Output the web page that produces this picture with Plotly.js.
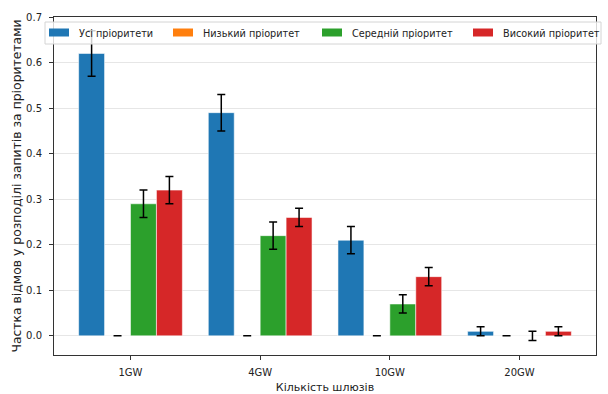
<!DOCTYPE html>
<html>
<head>
<meta charset="utf-8">
<script src="https://cdn.plot.ly/plotly-3.0.1.min.js"></script>
<style>html,body{margin:0;padding:0;background:#fff;}#chart{width:608px;height:394px;}</style>
</head>
<body>
<div id="chart"></div>
<script>
const categories = ["1GW", "4GW", "10GW", "20GW"];
const seriesNames = ["Усі пріоритети", "Низький пріоритет", "Середній пріоритет", "Високий пріоритет"];
const allValues = [0.62, 0.49, 0.21, 0.01];
const allErrors = [0.05, 0.04, 0.03, 0.01];
const lowValues = [0.0, 0.0, 0.0, 0.0];
const lowErrors = [0.0, 0.0, 0.0, 0.0];
const midValues = [0.29, 0.22, 0.07, 0.0];
const midErrors = [0.03, 0.03, 0.02, 0.01];
const highValues = [0.32, 0.26, 0.13, 0.01];
const highErrors = [0.03, 0.02, 0.02, 0.01];
const yTickValues = [0.0, 0.1, 0.2, 0.3, 0.4, 0.5, 0.6, 0.7];
const xTitle = "Кількість шлюзів";
const yTitle = "Частка відмов у розподілі запитів за пріоритетами";

const colors = ["#1f77b4", "#ff7f0e", "#2ca02c", "#d62728"];
const values = [allValues, lowValues, midValues, highValues];
const errors = [allErrors, lowErrors, midErrors, highErrors];
const font = "DejaVu Sans, sans-serif";

const W = 608, H = 394;
const M = {l: 54, r: 12, t: 17, b: 39};
const PW = W - M.l - M.r, PH = H - M.t - M.b;
const px = v => (v - M.l) / PW;          // pixel x -> paper x
const py = v => (H - M.b - v) / PH;      // pixel y -> paper y

const traces = values.map((v, i) => ({
  type: "bar",
  name: seriesNames[i],
  x: categories.map((c, k) => k),
  y: v,
  marker: {color: colors[i], line: {color: "rgba(255,255,255,0.55)", width: 1}},
  error_y: {type: "data", array: errors[i], visible: true, color: "#000", thickness: 1.5, width: 4}
}));

// custom legend (matplotlib-like, single row)
const legendSymbolX = [49, 173, 322, 473];
const shapes = [{
  type: "rect", xref: "paper", yref: "paper", layer: "above",
  x0: px(45), x1: px(601), y0: py(44), y1: py(22),
  fillcolor: "rgba(255,255,255,0.8)", line: {color: "#d4d4d4", width: 1}
}];
const annotations = [];
seriesNames.forEach((name, i) => {
  const x0 = legendSymbolX[i];
  shapes.push({
    type: "rect", xref: "paper", yref: "paper", layer: "above",
    x0: px(x0), x1: px(x0 + 20), y0: py(36.5), y1: py(28.5),
    fillcolor: colors[i], line: {width: 0}
  });
  annotations.push({
    xref: "paper", yref: "paper", x: px(x0 + 28), y: py(33), xanchor: "left", yanchor: "middle",
    text: name, showarrow: false, font: {family: font, size: 9.7, color: "#222"}
  });
});

const layout = {
  width: W, height: H, autosize: false,
  margin: {l: M.l, r: M.r, t: M.t, b: M.b, pad: 0},
  paper_bgcolor: "#fff", plot_bgcolor: "#fff",
  barmode: "group", bargap: 0.2, bargroupgap: 0,
  font: {family: font, size: 10, color: "#222"},
  showlegend: false,
  shapes: shapes,
  annotations: annotations,
  xaxis: {
    range: [-0.59, 3.59], tickmode: "array", tickvals: categories.map((c, k) => k), ticktext: categories,
    showgrid: false, zeroline: false, showline: true, mirror: true, linecolor: "#333", linewidth: 1,
    ticks: "outside", ticklen: 4, tickcolor: "#333", ticklabelstandoff: 4,
    title: {text: xTitle, font: {family: font, size: 11, color: "#222"}, standoff: 12}
  },
  yaxis: {
    range: [-0.042, 0.7], tickmode: "array", tickvals: yTickValues, tickformat: ".1f",
    showgrid: true, gridcolor: "#e6e6e6", gridwidth: 1, zeroline: false,
    showline: true, mirror: true, linecolor: "#333", linewidth: 1,
    ticks: "outside", ticklen: 4, tickcolor: "#333", ticklabelstandoff: 5,
    title: {text: yTitle, font: {family: font, size: 12.4, color: "#222"}, standoff: 1}
  }
};

Plotly.newPlot("chart", traces, layout, {displayModeBar: false, staticPlot: true});
</script>
</body>
</html>
